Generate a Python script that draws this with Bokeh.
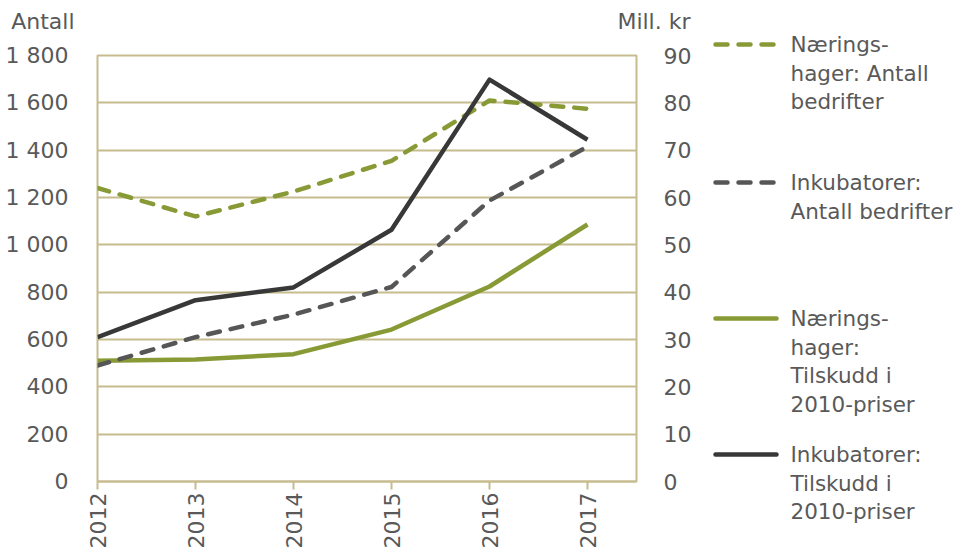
from math import pi
from bokeh.plotting import figure
from bokeh.layouts import row, column
from bokeh.models import Range1d, LinearAxis, FixedTicker
from bokeh.core.properties import value
from bokeh.embed import file_html
from bokeh.resources import INLINE

# ---- data ----
years = [2012, 2013, 2014, 2015, 2016, 2017]
naeringshager_antall = [1240, 1120, 1225, 1355, 1610, 1575]
inkubatorer_antall = [490, 610, 705, 822, 1187, 1415]
naeringshager_tilskudd = [25.5, 25.8, 26.9, 32.1, 41.2, 54.3]
inkubatorer_tilskudd = [30.5, 38.3, 41.0, 53.2, 84.9, 72.2]

left_ticks = [0, 200, 400, 600, 800, 1000, 1200, 1400, 1600, 1800]
left_tick_labels = ["0", "200", "400", "600", "800", "1 000", "1 200", "1 400", "1 600", "1 800"]
right_ticks = [0, 10, 20, 30, 40, 50, 60, 70, 80, 90]

left_title = "Antall"
right_title = "Mill. kr"

legend_entries = [
    ["Nærings-", "hager:  Antall", "bedrifter"],
    ["Inkubatorer:", "Antall bedrifter"],
    ["Nærings-", "hager:", "Tilskudd i", "2010-priser"],
    ["Inkubatorer:", "Tilskudd i", "2010-priser"],
]

# ---- styles ----
FONT = "DejaVu Sans"
FS = "22px"
LFS = "21.5px"
TXT = "#595959"
GRID = "#C6BC8E"
OLIVE = "#879A36"
DGRAY = "#565656"
BLACK = "#383838"
LW = 4.5
DASH = "12 11"

MAIN_W = 700
HEAD_H = 40

# ---- header with axis titles ----
hd = figure(width=MAIN_W, height=HEAD_H, x_range=Range1d(0, MAIN_W), y_range=Range1d(HEAD_H, 0),
            output_backend="svg", toolbar_location=None, min_border=0,
            outline_line_color=None, background_fill_color="white", border_fill_color="white")
hd.frame_align = False
hd.axis.visible = False
hd.grid.visible = False
hd.text(x=[74, 690], y=[21, 21], text=[left_title, right_title], text_align="right",
        text_baseline="middle", text_font=value(FONT), text_font_size=FS, text_color=TXT)

# ---- main chart ----
p = figure(frame_width=539, frame_height=426,
           min_border_left=97, min_border_right=64,
           min_border_top=15, min_border_bottom=71,
           x_range=Range1d(2012, 2017.5), y_range=Range1d(0, 1800),
           output_backend="svg", toolbar_location=None,
           background_fill_color="white", border_fill_color="white")
p.frame_align = False
p.extra_y_ranges = {"right": Range1d(0, 90)}

p.outline_line_color = GRID
p.outline_line_width = 2
p.xgrid.visible = False
p.ygrid.ticker = FixedTicker(ticks=left_ticks)
p.ygrid.grid_line_color = GRID
p.ygrid.grid_line_width = 2

xa = p.xaxis[0]
xa.ticker = FixedTicker(ticks=years)
xa.major_label_orientation = pi / 2
xa.axis_line_color = GRID
xa.axis_line_width = 2
xa.major_tick_line_color = GRID
xa.major_tick_line_width = 2
xa.major_tick_in = 0
xa.major_tick_out = 8
xa.minor_tick_line_color = None
xa.major_label_standoff = 3
xa.major_label_text_font = FONT
xa.major_label_text_font_size = FS
xa.major_label_text_color = TXT

ya = p.yaxis[0]
ya.ticker = FixedTicker(ticks=left_ticks)
ya.major_label_overrides = {t: s for t, s in zip(left_ticks, left_tick_labels)}
ya.axis_line_color = None
ya.major_tick_line_color = None
ya.minor_tick_line_color = None
ya.major_label_standoff = 23
ya.major_label_text_font = FONT
ya.major_label_text_font_size = FS
ya.major_label_text_color = TXT

ra = LinearAxis(y_range_name="right", ticker=FixedTicker(ticks=right_ticks))
ra.axis_line_color = None
ra.major_tick_line_color = None
ra.minor_tick_line_color = None
ra.major_label_standoff = 21
ra.major_label_text_font = FONT
ra.major_label_text_font_size = FS
ra.major_label_text_color = TXT
p.add_layout(ra, "right")

p.line(years, naeringshager_tilskudd, y_range_name="right", line_color=OLIVE,
       line_width=LW, line_join="round")
p.line(years, inkubatorer_antall, line_color=DGRAY, line_width=LW,
       line_dash=DASH, line_cap="round", line_join="round")
p.line(years, naeringshager_antall, line_color=OLIVE, line_width=LW,
       line_dash=DASH, line_cap="round", line_join="round")
p.line(years, inkubatorer_tilskudd, y_range_name="right", line_color=BLACK,
       line_width=LW, line_join="round")

# ---- legend panel ----
LG_W, LG_H = 262, 552
lg = figure(width=LG_W, height=LG_H, x_range=Range1d(0, LG_W), y_range=Range1d(LG_H, 0),
            output_backend="svg", toolbar_location=None,
            min_border=0, outline_line_color=None,
            background_fill_color="white", border_fill_color="white")
lg.frame_align = False
lg.axis.visible = False
lg.grid.visible = False

entry_styles = [
    dict(line_color=OLIVE, line_dash=DASH, line_cap="round"),
    dict(line_color=DGRAY, line_dash=DASH, line_cap="round"),
    dict(line_color=OLIVE, line_cap="round"),
    dict(line_color=BLACK, line_cap="round"),
]
entry_tops = [44, 182, 318, 454]
line_h = 28.6
for lines, style, top in zip(legend_entries, entry_styles, entry_tops):
    lg.line([15, 76], [top, top], line_width=LW, **style)
    ys = [top + i * line_h for i in range(len(lines))]
    lg.text(x=[90] * len(lines), y=ys, text=lines, text_baseline="middle",
            text_align="left", text_font=value(FONT), text_font_size=LFS,
            text_color=TXT)

layout = row(column(hd, p), lg)
open("out.html", "w").write(file_html(layout, INLINE))
